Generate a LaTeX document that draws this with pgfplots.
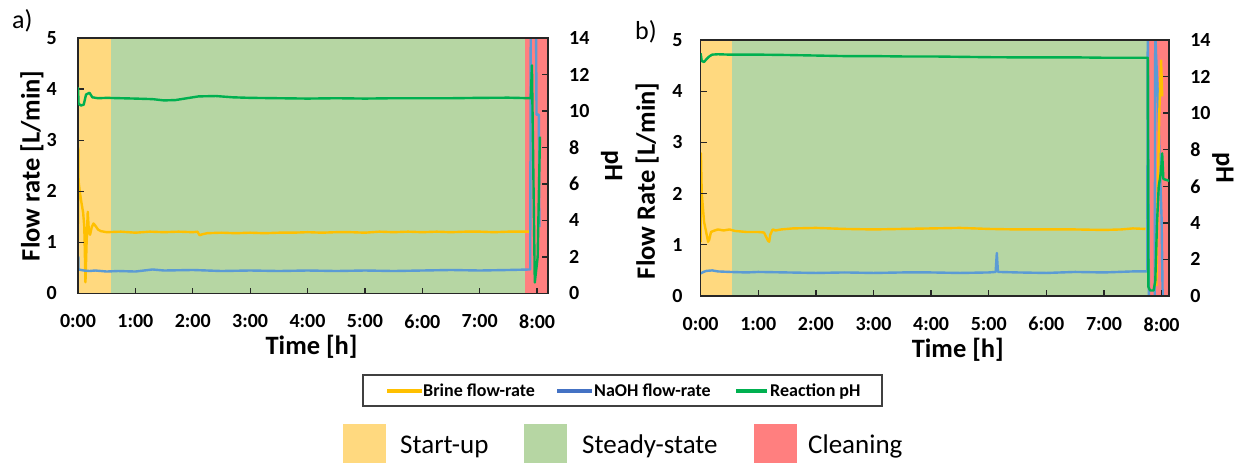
\documentclass[border=0pt]{standalone}
\usepackage{fontspec}
\setmainfont{Carlito}
\usepackage{pgfplots}
\pgfplotsset{compat=1.18}
\definecolor{cstart}{RGB}{255,217,127}
\definecolor{csteady}{RGB}{182,214,163}
\definecolor{cclean}{RGB}{255,127,127}
\definecolor{cbrine}{RGB}{255,192,0}
\definecolor{cnaoh}{RGB}{91,155,213}
\definecolor{cph}{RGB}{0,176,80}
\definecolor{cnaohleg}{RGB}{68,114,196}
\pgfplotsset{
  fl/.style={scale only axis, anchor=south west, xmin=0, ymin=0, ymax=5,
    ytick={0,...,5}, xtick={0,...,8},
    xticklabels={0:00,1:00,2:00,3:00,4:00,5:00,6:00,7:00,8:00},
    xtick pos=lower, ytick pos=left, tick align=inside, major tick length=6pt,
    axis on top,
    axis line style={line width=1.5pt, black!85},
    tick style={line width=1.3pt, black!85},
    ticklabel style={font=\bfseries\fontsize{20}{24}\selectfont},
    /pgf/number format/assume math mode=true,
    xticklabel style={inner ysep=0pt, yshift=-21pt},
    yticklabel style={inner xsep=0pt},
    label style={font=\bfseries\fontsize{26.5}{30}\selectfont},
    x label style={anchor=center, yshift=-53.5pt},
    y label style={anchor=center},
  },
  ph/.style={scale only axis, anchor=south west, xmin=0, ymin=0, ymax=14,
    ytick={0,2,...,14}, axis x line=none, axis y line*=right,
    tick align=inside, major tick length=6pt,
    axis line style={line width=1.5pt, black!85},
    tick style={line width=1.3pt, black!85},
    ticklabel style={font=\bfseries\fontsize{20}{24}\selectfont},
    /pgf/number format/assume math mode=true,
    yticklabel style={anchor=west, inner xsep=0pt, xshift=21pt},
    label style={font=\bfseries\fontsize{26.5}{30}\selectfont},
    y label style={anchor=center, rotate=180},
  },
  dl/.style={line width=2.4pt, line join=round},
}
\begin{document}
\begin{tikzpicture}
\path (0pt,0pt) rectangle (1237pt,464pt);

% ---------------- panel a ----------------
\begin{axis}[fl, at={(78pt,170.5pt)}, width=470pt, height=255.5pt, xmax=8.19,
  ylabel={Flow rate [L/min]}, y label style={at={(axis description cs:-0.098,0.5)}},
  xlabel={Time [h]}, x label style={at={(axis description cs:0.497,0)}},
  yticklabel style={xshift=-21pt}]
\addplot[fill=cstart, draw=none] coordinates {(0,0)(0,5)(0.575,5)(0.575,0)};
\addplot[fill=csteady, draw=none] coordinates {(0.575,0)(0.575,5)(7.79,5)(7.79,0)};
\addplot[fill=cclean, draw=none] coordinates {(7.79,0)(7.79,5)(8.19,5)(8.19,0)};
\addplot[dl, cbrine] coordinates {
(0,1.05)(0.005,2.85)(0.01,2.2)(0.03,2.0)(0.06,1.78)(0.09,1.58)(0.11,1.3)(0.13,0.22)
(0.15,1.0)(0.17,1.6)(0.19,1.2)(0.21,1.15)(0.24,1.3)(0.27,1.37)(0.3,1.33)(0.35,1.25)
(0.4,1.22)(0.5,1.20)(0.75,1.21)(1.0,1.19)(1.25,1.21)(1.5,1.20)(1.75,1.21)(2.0,1.20)
(2.08,1.21)(2.12,1.14)(2.17,1.16)(2.25,1.18)(2.5,1.19)(2.75,1.18)(3.0,1.19)(3.25,1.18)
(3.5,1.19)(3.75,1.19)(4.0,1.20)(4.25,1.19)(4.5,1.20)(4.75,1.20)(5.0,1.19)(5.25,1.21)
(5.5,1.20)(5.75,1.21)(6.0,1.20)(6.25,1.21)(6.5,1.20)(6.75,1.21)(7.0,1.21)(7.25,1.20)
(7.5,1.21)(7.75,1.21)(7.87,1.21)};
\addplot[dl, cnaoh] coordinates {
(0,0.72)(0.005,0.72)(0.01,0.47)(0.1,0.45)(0.2,0.44)(0.3,0.45)(0.5,0.43)(0.7,0.44)
(1.0,0.43)(1.3,0.47)(1.5,0.45)(2,0.46)(2.5,0.44)(3,0.45)(3.5,0.44)(4,0.45)(4.5,0.44)
(5,0.45)(5.5,0.44)(6,0.45)(6.5,0.46)(7,0.45)(7.5,0.46)(7.88,0.47)(7.89,5.6)(7.98,5.6)
(7.99,3.5)(8.03,3.5)(8.04,1.3)};
\end{axis}
\begin{axis}[ph, at={(78pt,170.5pt)}, width=470pt, height=255.5pt, xmax=8.19,
  ylabel={pH}, y label style={at={(axis description cs:1.1355,0.5)}}]
\addplot[dl, cph] coordinates {
(0,11.3)(0.01,10.4)(0.05,10.3)(0.1,10.35)(0.14,10.9)(0.2,11.0)(0.25,10.75)(0.35,10.7)
(0.5,10.72)(0.75,10.7)(1,10.68)(1.3,10.65)(1.5,10.58)(1.7,10.6)(1.9,10.7)(2.1,10.8)
(2.4,10.82)(2.7,10.75)(3,10.72)(3.5,10.7)(4,10.68)(4.5,10.7)(5,10.68)(5.5,10.7)
(6,10.7)(6.5,10.7)(7,10.72)(7.5,10.73)(7.89,10.7)(7.91,12.5)(7.96,0.6)(8.01,2.0)(8.05,8.6)};
\end{axis}

% ---------------- panel b ----------------
\begin{axis}[fl, at={(700.6pt,168pt)}, width=468.5pt, height=256pt, xmax=8.13,
  ylabel={Flow Rate [L/min]}, y label style={at={(axis description cs:-0.114,0.45)}},
  xlabel={Time [h]}, x label style={at={(axis description cs:0.549,0)}},
  yticklabel style={xshift=-18pt}]
\addplot[fill=cstart, draw=none] coordinates {(0,0)(0,5)(0.55,5)(0.55,0)};
\addplot[fill=csteady, draw=none] coordinates {(0.55,0)(0.55,5)(7.78,5)(7.78,0)};
\addplot[fill=cclean, draw=none] coordinates {(7.78,0)(7.78,5)(8.13,5)(8.13,0)};
\addplot[dl, cnaoh] coordinates {
(0,0.44)(0.05,0.47)(0.1,0.49)(0.2,0.5)(0.3,0.48)(0.5,0.47)(0.8,0.46)(1,0.47)(1.5,0.46)
(2,0.45)(2.5,0.46)(3,0.45)(3.5,0.46)(4,0.46)(4.5,0.45)(5,0.46)(5.12,0.47)(5.14,0.84)
(5.16,0.47)(5.5,0.46)(6,0.45)(6.5,0.47)(7,0.46)(7.5,0.48)(7.75,0.48)(7.76,5.6)(7.78,-0.2)
(7.88,-0.2)(7.89,5.6)(7.9,4.8)(7.94,3.8)(7.97,2.5)(8.0,1.5)(8.02,-0.2)};
\addplot[dl, cbrine] coordinates {
(0,1.05)(0.005,2.79)(0.02,2.0)(0.06,1.45)(0.13,1.06)(0.15,1.1)(0.18,1.25)(0.22,1.27)
(0.3,1.3)(0.4,1.28)(0.5,1.3)(0.6,1.27)(0.8,1.25)(1.0,1.25)(1.1,1.24)(1.17,1.08)
(1.19,1.06)(1.21,1.2)(1.25,1.3)(1.3,1.28)(1.4,1.3)(1.6,1.32)(2,1.33)(2.5,1.31)(3,1.3)
(3.5,1.31)(4,1.32)(4.5,1.33)(5,1.31)(5.5,1.3)(6,1.3)(6.5,1.3)(7,1.29)(7.3,1.3)(7.5,1.32)
(7.72,1.31)};
\addplot[dl, cbrine] coordinates {
(7.91,0.2)(7.93,1.8)(7.96,3.6)(7.99,4.6)(8.0,4.3)(8.01,3.9)};
\end{axis}
\begin{axis}[ph, at={(700.6pt,168pt)}, width=468.5pt, height=256pt, xmax=8.13,
  ylabel={pH}, y label style={at={(axis description cs:1.115,0.5)}}]
\addplot[dl, cph] coordinates {
(0,13.27)(0.02,12.85)(0.06,12.8)(0.1,12.95)(0.15,13.1)(0.2,13.2)(0.3,13.22)(0.5,13.2)
(0.8,13.2)(1,13.2)(1.5,13.18)(2,13.15)(2.5,13.12)(3,13.12)(3.5,13.1)(4,13.1)(4.5,13.08)
(5,13.06)(5.5,13.05)(6,13.05)(6.5,13.05)(7,13.03)(7.5,13.03)(7.76,13.03)(7.77,0.5)
(7.8,0.3)(7.86,0.3)(7.89,0.8)(7.92,4.0)(7.95,6.0)(7.99,6.8)(8.01,7.8)(8.03,6.4)(8.13,6.3)};
\end{axis}

% panel tags
\node[anchor=base west, inner sep=0, font=\fontsize{26}{30}\selectfont] at (12pt,435pt) {a)};
\node[anchor=base west, inner sep=0, font=\fontsize{26}{30}\selectfont] at (635pt,424.5pt) {b)};

% line legend
\draw[black!75, line width=1.3pt] (363pt,89pt) rectangle (882pt,58pt);
\draw[cbrine, line width=4pt] (387pt,73.3pt) -- (422pt,73.3pt);
\node[anchor=base west, inner sep=0, font=\bfseries\fontsize{18}{21}\selectfont] at (423pt,68pt) {Brine flow-rate};
\draw[cnaohleg, line width=4pt] (557pt,73.3pt) -- (592pt,73.3pt);
\node[anchor=base west, inner sep=0, font=\bfseries\fontsize{18}{21}\selectfont] at (594pt,68pt) {NaOH flow-rate};
\draw[cph, line width=4pt] (736pt,73.3pt) -- (767pt,73.3pt);
\node[anchor=base west, inner sep=0, font=\bfseries\fontsize{18}{21}\selectfont] at (770pt,68pt) {Reaction pH};

% region legend
\fill[cstart] (343pt,40pt) rectangle (386pt,1pt);
\node[anchor=base west, inner sep=0, font=\fontsize{27}{31}\selectfont] at (400pt,11pt) {Start-up};
\fill[csteady] (524pt,40pt) rectangle (567pt,1pt);
\node[anchor=base west, inner sep=0, font=\fontsize{27}{31}\selectfont] at (582pt,11pt) {Steady-state};
\fill[cclean] (754pt,40pt) rectangle (797pt,1pt);
\node[anchor=base west, inner sep=0, font=\fontsize{27}{31}\selectfont] at (808pt,11pt) {Cleaning};
\end{tikzpicture}
\end{document}
